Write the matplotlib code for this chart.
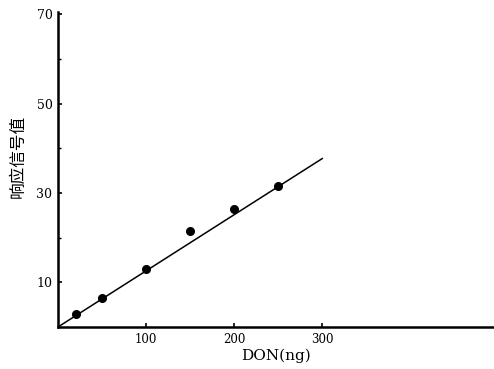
import matplotlib
matplotlib.use("Agg")
import matplotlib.pyplot as plt
import numpy as np

# Data
don_ng = [20, 50, 100, 150, 200, 250]
signal = [2.9, 6.4, 13.0, 21.5, 26.4, 31.5]
fit_x = [0, 300]
fit_y = [0, 37.7]

xticks = [100, 200, 300]
xtick_labels = ["100", "200", "300"]
yticks = [10, 30, 50, 70]
ytick_labels = ["10", "30", "50", "70"]
yminor = [20, 40, 60]

fig = plt.figure(figsize=(4.94, 3.69), dpi=100)
ax = fig.add_axes([58/494, 1-327/369, (494-58)/494, (327-12)/369])

ax.plot(fit_x, fit_y, color="black", lw=1.1)
ax.plot(don_ng, signal, "o", color="black", ms=5.5)

ax.set_xlim(0, 495)
ax.set_ylim(0, 70.5)
for s in ["top", "right"]:
    ax.spines[s].set_visible(False)
for s in ["left", "bottom"]:
    ax.spines[s].set_linewidth(1.8)

ax.set_xticks(xticks)
ax.set_xticklabels(xtick_labels, family="DejaVu Serif", fontsize=8.5)
ax.set_yticks(yticks)
ax.set_yticklabels(ytick_labels, family="DejaVu Serif", fontsize=9)
ax.set_yticks(yminor, minor=True)
ax.tick_params(axis="both", direction="in", length=3, width=1.2, pad=4)
ax.tick_params(axis="y", which="minor", direction="in", length=2, width=1)

ax.set_xlabel("DON(ng)", family="DejaVu Serif", fontsize=11, labelpad=2)
ax.set_ylabel("响应信号值", family=["Noto Sans CJK SC", "DejaVu Sans"], fontsize=12)
ax.yaxis.set_label_coords(-0.071, 0.54)

fig.savefig("out.png", dpi=100)
